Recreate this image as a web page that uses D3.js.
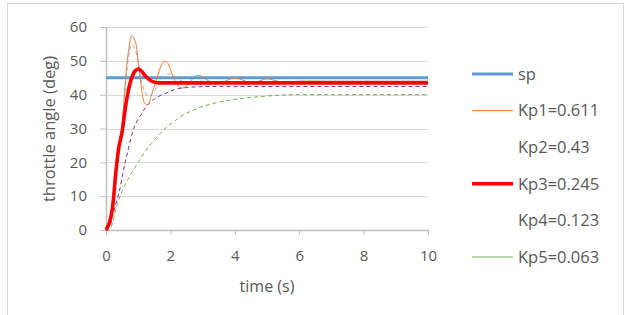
<!DOCTYPE html>
<html>
<head>
<meta charset="utf-8">
<script src="https://cdn.jsdelivr.net/npm/d3@7"></script>
<style>
  html, body { margin: 0; padding: 0; background: #fff; }
  svg text { font-family: "Open Sans", Lato, sans-serif; fill: #595959; }
</style>
</head>
<body>
<svg id="chart" width="635" height="315"></svg>
<script>
// time samples (s)
const times = [0, 0.1, 0.2, 0.3, 0.4, 0.5, 0.6, 0.7, 0.8, 0.9,
  1.0, 1.1, 1.2, 1.3, 1.4, 1.5, 1.6, 1.7, 1.8, 1.9,
  2.0, 2.1, 2.2, 2.3, 2.4, 2.5, 2.6, 2.7, 2.8, 2.9,
  3.0, 3.25, 3.5, 3.75, 4.0, 4.25, 4.5, 4.75, 5.0, 5.25, 5.5,
  6, 7, 8, 9, 10];

// throttle angle (deg)
const sp = times.map(() => 45);
const kp1 = [0, 2, 6.5, 16, 24, 31, 44, 53, 57.3, 56,
  50, 42, 37.5, 37, 39.5, 42.5, 45.5, 48.3, 49.9, 49.5,
  47.5, 45, 43, 42, 42, 42.6, 43.6, 44.8, 45.6, 45.7,
  45.2, 43.8, 43.2, 44.2, 45, 44.3, 43.5, 44, 44.7, 44.2, 43.7,
  44, 44, 44, 44, 44];
const kp2 = [0, 2, 6.5, 16, 24, 31, 42, 51, 54.8, 53.5,
  49, 44, 41, 39.5, 39.8, 41, 42.5, 44, 45.2, 45.9,
  46.1, 45.7, 45, 44.3, 43.8, 43.5, 43.4, 43.5, 43.7, 43.9,
  44, 43.9, 43.8, 43.8, 43.8, 43.8, 43.8, 43.8, 43.8, 43.8, 43.8,
  43.8, 43.8, 43.8, 43.8, 43.8];
const kp3 = [0, 2, 6.5, 16.5, 24.5, 29, 36, 41.5, 45, 47,
  47.6, 47, 45.8, 44.8, 44.1, 43.7, 43.5, 43.5, 43.5, 43.5,
  43.5, 43.5, 43.5, 43.5, 43.5, 43.5, 43.5, 43.5, 43.5, 43.5,
  43.5, 43.5, 43.5, 43.5, 43.5, 43.5, 43.5, 43.5, 43.5, 43.5, 43.5,
  43.5, 43.5, 43.5, 43.5, 43.5];
const kp4 = [0, 0.8, 4, 7.5, 10.8, 15.5, 20.2, 24.2, 28, 31,
  32.8, 34.2, 35.8, 37, 38, 38.7, 39.3, 39.8, 40.2, 40.6,
  41, 41.4, 41.7, 41.9, 42, 42.1, 42.2, 42.25, 42.3, 42.35,
  42.4, 42.4, 42.4, 42.4, 42.4, 42.4, 42.4, 42.4, 42.4, 42.4, 42.4,
  42.4, 42.4, 42.4, 42.4, 42.4];
const kp5 = [0, 0, 2, 6, 9, 11.5, 13.5, 15.3, 17, 18.5,
  20, 21.5, 23, 24.3, 25.5, 26.6, 27.7, 28.7, 29.7, 30.5,
  31.3, 32, 32.7, 33.4, 34, 34.5, 35, 35.4, 35.8, 36.2,
  36.5, 37.2, 37.8, 38.2, 38.6, 38.9, 39.2, 39.4, 39.6, 39.75, 39.9,
  40, 40, 40, 40, 40];

const seriesNames = ["sp", "Kp1=0.611", "Kp2=0.43", "Kp3=0.245", "Kp4=0.123", "Kp5=0.063"];
const seriesValues = [sp, kp1, kp2, kp3, kp4, kp5];

const xTicks = [0, 2, 4, 6, 8, 10];
const yTicks = [0, 10, 20, 30, 40, 50, 60];

// line styles per series
const styles = [
  { color: "#5B9BD5", width: 3.2, dash: null, legend: true },
  { color: "#ED7D31", width: 1, dash: null, legend: true },
  { color: "#A5A5A5", width: 1, dash: "4,3", legend: false },
  { color: "#FF0000", width: 3.6, dash: null, legend: true },
  { color: "#7030A0", width: 1, dash: "4,3", legend: false },
  { color: "#70AD47", width: 1, dash: "4,3", legend: true }
];

const svg = d3.select("#chart");

// outer frame
svg.append("rect")
  .attr("x", 7.5).attr("y", 3.5)
  .attr("width", 616).attr("height", 320)
  .attr("fill", "#fff")
  .attr("stroke", "#D9D9D9");

const x = d3.scaleLinear().domain([0, 10]).range([106, 428]);
const y = d3.scaleLinear().domain([0, 60]).range([230, 27]);

// gridlines
svg.append("g")
  .selectAll("line")
  .data(yTicks.slice(1))
  .enter()
  .append("line")
    .attr("x1", x(0)).attr("x2", x(10))
    .attr("y1", d => Math.round(y(d)) + 0.5)
    .attr("y2", d => Math.round(y(d)) + 0.5)
    .attr("stroke", "#D9D9D9")
    .attr("stroke-width", 1);

// y axis
const yAxis = svg.append("g")
  .attr("transform", `translate(${x(0)},0)`)
  .call(d3.axisLeft(y).tickValues(yTicks).tickSize(6).tickSizeOuter(0).tickPadding(13));
yAxis.select(".domain").attr("stroke", "#BFBFBF").attr("stroke-width", 1.5);
yAxis.selectAll(".tick line").attr("stroke", "#BFBFBF");
yAxis.selectAll(".tick text").style("font-size", "15px").style("fill", "#595959")
  .style("font-family", "'Open Sans', sans-serif");

// x axis
const xAxis = svg.append("g")
  .attr("transform", `translate(0,${y(0)})`)
  .call(d3.axisBottom(x).tickValues(xTicks).tickSize(5).tickSizeOuter(0).tickPadding(15));
xAxis.select(".domain").attr("stroke", "#BFBFBF").attr("stroke-width", 1.5);
xAxis.selectAll(".tick line").attr("stroke", "#BFBFBF");
xAxis.selectAll(".tick text").style("font-size", "15px").style("fill", "#595959")
  .style("font-family", "'Open Sans', sans-serif");

// axis titles
svg.append("text")
  .attr("x", 267).attr("y", 292)
  .attr("text-anchor", "middle")
  .style("font-size", "16px")
  .text("time (s)");

svg.append("text")
  .attr("transform", "translate(55,129) rotate(-90)")
  .attr("text-anchor", "middle")
  .style("font-size", "16.5px")
  .text("throttle angle (deg)");

// series lines
const line = d3.line()
  .x((d, i) => x(times[i]))
  .y(d => y(d))
  .curve(d3.curveCatmullRom);

const drawOrder = [5, 4, 0, 1, 2, 3];
drawOrder.forEach(k => {
  svg.append("path")
    .datum(seriesValues[k])
    .attr("d", line)
    .attr("fill", "none")
    .attr("stroke", styles[k].color)
    .attr("stroke-width", styles[k].width)
    .attr("stroke-dasharray", styles[k].dash);
});

// legend
const legend = svg.append("g");
seriesNames.forEach((name, i) => {
  const ly = 74 + i * 36.6;
  if (styles[i].legend) {
    legend.append("line")
      .attr("x1", 472).attr("x2", 513)
      .attr("y1", ly).attr("y2", ly)
      .attr("stroke", styles[i].color)
      .attr("stroke-width", styles[i].width);
  }
  legend.append("text")
    .attr("x", 518).attr("y", ly)
    .attr("dy", "0.35em")
    .style("font-size", "16.5px")
    .text(name);
});
</script>
</body>
</html>
